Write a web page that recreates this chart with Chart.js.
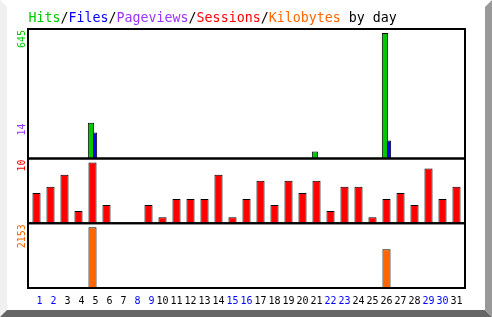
<!DOCTYPE html>
<html>
<head>
<meta charset="utf-8">
<script src="https://cdn.jsdelivr.net/npm/chart.js@4.4.0/dist/chart.umd.min.js"></script>
<style>
  html, body { margin: 0; padding: 0; background: #fff; }
  #chart { display: block; }
</style>
</head>
<body>
<canvas id="chart" width="492" height="317"></canvas>
<script>
const days = [1, 2, 3, 4, 5, 6, 7, 8, 9, 10, 11, 12, 13, 14, 15, 16, 17, 18, 19, 20, 21, 22, 23, 24, 25, 26, 27, 28, 29, 30, 31];
const weekendDays = [1, 2, 8, 9, 15, 16, 22, 23, 29, 30];
const hits = [0, 0, 0, 0, 184, 0, 0, 0, 0, 0, 0, 0, 0, 0, 0, 0, 0, 0, 0, 0, 36, 0, 0, 0, 0, 645, 0, 0, 0, 0, 0];
const files = [0, 0, 0, 0, 133, 0, 0, 0, 0, 0, 0, 0, 0, 0, 0, 0, 0, 0, 0, 0, 0, 0, 0, 0, 0, 92, 0, 0, 0, 0, 0];
const sessions = [5, 6, 8, 2, 10, 3, 0, 0, 3, 1, 4, 4, 4, 8, 1, 4, 7, 3, 7, 5, 7, 2, 6, 6, 1, 4, 5, 3, 9, 4, 6];
const kilobytes = [0, 0, 0, 0, 2153, 0, 0, 0, 0, 0, 0, 0, 0, 0, 0, 0, 0, 0, 0, 0, 0, 0, 0, 0, 0, 1376, 0, 0, 0, 0, 0];
const pageviewsMax = '14';

const GREEN = '#00c800';
const BLUE = '#0000ff';
const PURPLE = '#9933ff';
const RED = '#ff0000';
const ORANGE = '#ff6600';
const MONO = '"DejaVu Sans Mono", "Liberation Mono", monospace';

const titleParts = [
    ['Hits', GREEN], ['/', '#000'], ['Files', BLUE], ['/', '#000'],
    ['Pageviews', PURPLE], ['/', '#000'], ['Sessions', RED], ['/', '#000'],
    ['Kilobytes', ORANGE], [' by day', '#000']
];

// side labels, anchored at the top of each panel (pageviews sits lower)
const sideLabels = [
    { text: String(Math.max(...hits)), color: GREEN, axis: 'yHits' },
    { text: pageviewsMax, color: PURPLE, axis: 'yHits', at: 180 },
    { text: String(Math.max(...sessions)), color: RED, axis: 'ySess' },
    { text: String(Math.max(...kilobytes)), color: ORANGE, axis: 'yKb' }
];

const framePlugin = {
    id: 'frame',
    beforeDraw(chart) {
        const ctx = chart.ctx;
        const w = chart.width;
        const h = chart.height;
        const b = 7;
        ctx.save();
        ctx.fillStyle = '#f0f0f0';
        ctx.beginPath();
        ctx.moveTo(0, 0); ctx.lineTo(b, b); ctx.lineTo(b, h - b); ctx.lineTo(0, h);
        ctx.fill();
        ctx.fillStyle = '#666';
        ctx.beginPath();
        ctx.moveTo(0, h); ctx.lineTo(b, h - b); ctx.lineTo(w - b, h - b); ctx.lineTo(w, h);
        ctx.fill();
        ctx.fillStyle = '#999';
        ctx.beginPath();
        ctx.moveTo(w, 0); ctx.lineTo(w, h); ctx.lineTo(w - b, h - b); ctx.lineTo(w - b, b);
        ctx.fill();
        ctx.restore();
    },
    afterDatasetsDraw(chart) {
        const ctx = chart.ctx;
        const { left, right } = chart.chartArea;
        ctx.save();
        ctx.strokeStyle = '#000';
        ctx.lineWidth = 2;
        ['yHits', 'ySess', 'yKb'].forEach((id) => {
            const s = chart.scales[id];
            ctx.strokeRect(left - 1.5, s.top, right - left + 3, s.bottom - s.top);
        });

        ctx.font = '13.3px ' + MONO;
        ctx.textBaseline = 'alphabetic';
        ctx.textAlign = 'left';
        let x = left - 1;
        titleParts.forEach(([text, color]) => {
            ctx.fillStyle = color;
            ctx.fillText(text, x, 22);
            x += ctx.measureText(text).width;
        });

        ctx.font = '10px ' + MONO;
        ctx.textAlign = 'right';
        ctx.textBaseline = 'middle';
        sideLabels.forEach((lab) => {
            const s = chart.scales[lab.axis];
            const y = lab.at !== undefined ? s.getPixelForValue(lab.at) : s.top + 1;
            ctx.save();
            ctx.translate(22.5, y);
            ctx.rotate(-Math.PI / 2);
            ctx.fillStyle = lab.color;
            ctx.fillText(lab.text, 0, 0);
            ctx.restore();
        });
        ctx.restore();
    }
};

const hiddenAxis = {
    type: 'linear',
    position: 'left',
    stack: 'panels',
    min: 0,
    grid: { display: false, drawTicks: false },
    border: { display: false },
    ticks: { display: false }
};

new Chart(document.getElementById('chart'), {
    type: 'bar',
    data: {
        labels: days,
        datasets: [
            {
                label: 'Hits',
                data: hits,
                yAxisID: 'yHits',
                backgroundColor: GREEN,
                borderColor: '#000',
                borderWidth: 1,
                categoryPercentage: 0.43,
                barPercentage: 2.1
            },
            {
                label: 'Files',
                data: files,
                yAxisID: 'yHits',
                backgroundColor: BLUE,
                borderColor: '#000',
                borderWidth: 1,
                categoryPercentage: 0.43,
                barPercentage: 2.1
            },
            {
                label: 'Sessions',
                data: sessions,
                yAxisID: 'ySess',
                grouped: false,
                backgroundColor: RED,
                borderColor: '#000',
                borderWidth: 1,
                categoryPercentage: 1,
                barPercentage: 0.58
            },
            {
                label: 'Kilobytes',
                data: kilobytes,
                yAxisID: 'yKb',
                grouped: false,
                backgroundColor: ORANGE,
                borderColor: '#000',
                borderWidth: 1,
                categoryPercentage: 1,
                barPercentage: 0.58
            }
        ]
    },
    options: {
        responsive: false,
        animation: false,
        layout: { padding: { left: 29.5, right: 28.5, top: 29, bottom: 3 } },
        plugins: {
            legend: { display: false },
            tooltip: { enabled: false }
        },
        scales: {
            x: {
                grid: { display: false, drawTicks: false },
                border: { display: false },
                ticks: {
                    autoSkip: false,
                    maxRotation: 0,
                    padding: 7,
                    font: { family: MONO, size: 10 },
                    color: (ctx) => weekendDays.includes(days[ctx.index]) ? BLUE : '#000',
                    callback: (value, index) => String(days[index]).padStart(2, ' ')
                }
            },
            yKb: { ...hiddenAxis, stackWeight: 1, max: 2294 },
            ySess: { ...hiddenAxis, stackWeight: 1, max: 10.66 },
            yHits: { ...hiddenAxis, stackWeight: 2, max: 665 }
        }
    },
    plugins: [framePlugin]
});
</script>
</body>
</html>
